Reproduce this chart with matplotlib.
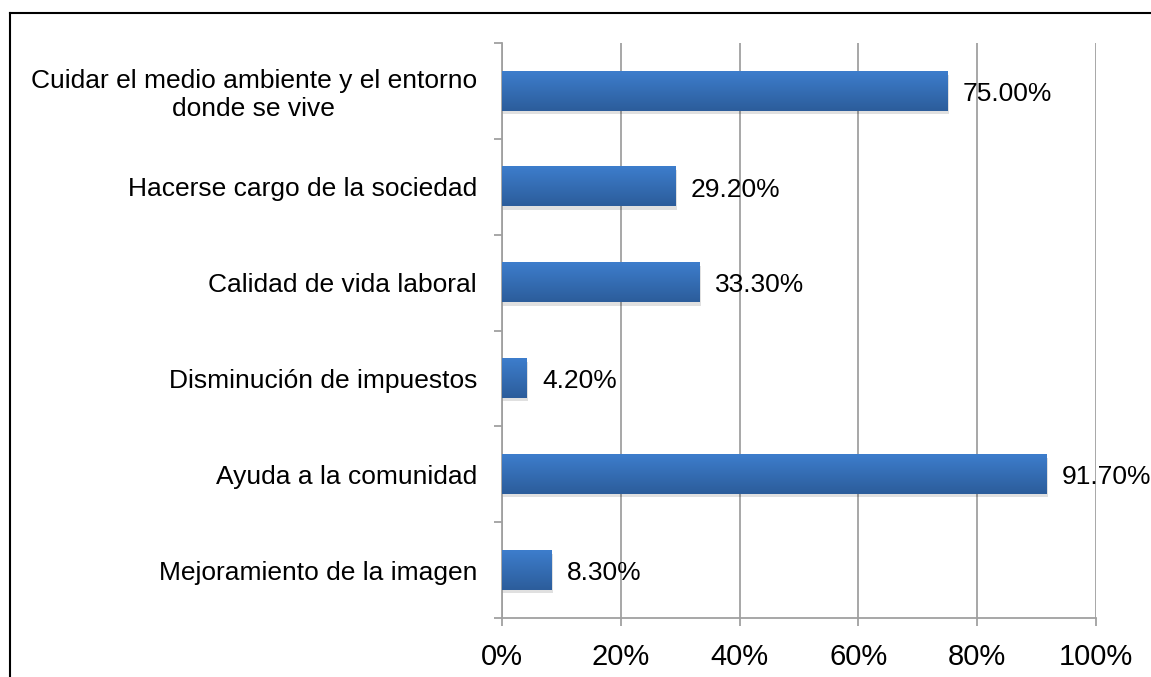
import numpy as np
import matplotlib
matplotlib.use("Agg")
import matplotlib.pyplot as plt
from matplotlib.lines import Line2D
from matplotlib.colors import LinearSegmentedColormap

plt.rcParams['font.family'] = ['Liberation Sans', 'DejaVu Sans']

categories = [
    "Cuidar el medio ambiente y el entorno\ndonde se vive",
    "Hacerse cargo de la sociedad",
    "Calidad de vida laboral",
    "Disminución de impuestos",
    "Ayuda a la comunidad",
    "Mejoramiento de la imagen",
]
values = [75.0, 29.2, 33.3, 4.2, 91.7, 8.3]
x_ticks = [0, 20, 40, 60, 80, 100]

grid_col = '#a0a0a0'
bar_cmap = LinearSegmentedColormap.from_list('bar', ['#2c5d9b', '#3d7dcc'])

fig = plt.figure(figsize=(11.51, 6.77), dpi=100)
ax = fig.add_axes([502 / 1151, 1 - 618 / 677, (1096 - 502) / 1151, (618 - 43) / 677])

n = len(categories)
ypos = np.arange(n)[::-1]
h = 0.41

grad = np.linspace(0, 1, 64).reshape(-1, 1)
for y, v in zip(ypos, values):
    # soft shadow under the bar
    ax.barh(y - 0.035, v + 0.25, height=h, left=0.0, color='#000000', alpha=0.12, zorder=2, linewidth=0)
    ax.imshow(grad, cmap=bar_cmap, aspect='auto', origin='lower',
              extent=[0, v, y - h / 2, y + h / 2], zorder=3)
    ax.annotate(f"{v:.2f}%", (v, y), xytext=(11, -2), textcoords='offset points',
                ha='left', va='center', fontsize=19, color='#000000', zorder=4)

ax.set_xlim(0, 100)
ax.set_ylim(-0.5, n - 0.5)
ax.set_xticks(x_ticks)
ax.set_xticklabels([f"{t}%" for t in x_ticks], fontsize=21)
ax.set_yticks(ypos)
ax.set_yticklabels(categories, fontsize=19, multialignment='center')
ax.set_yticks(np.arange(n + 1) - 0.5, minor=True)

ax.tick_params(axis='y', which='major', length=0, pad=18)
ax.tick_params(axis='y', which='minor', length=6, width=1.3, color=grid_col, direction='out')
ax.tick_params(axis='x', which='major', length=6, width=1.3, color=grid_col, direction='out', pad=12)

ax.grid(axis='x', color=grid_col, linewidth=1.3, zorder=1)
ax.set_axisbelow(True)
for s in ['top', 'right']:
    ax.spines[s].set_visible(False)
for s in ['left', 'bottom']:
    ax.spines[s].set_color(grid_col)
    ax.spines[s].set_linewidth(1.3)

# outer frame (top and left edges visible)
fig.add_artist(Line2D([10 / 1151, 10 / 1151], [0, 1 - 13 / 677], transform=fig.transFigure, color='black', lw=1.5))
fig.add_artist(Line2D([10 / 1151, 1], [1 - 13 / 677, 1 - 13 / 677], transform=fig.transFigure, color='black', lw=1.5))

fig.savefig("out.png", dpi=100)
